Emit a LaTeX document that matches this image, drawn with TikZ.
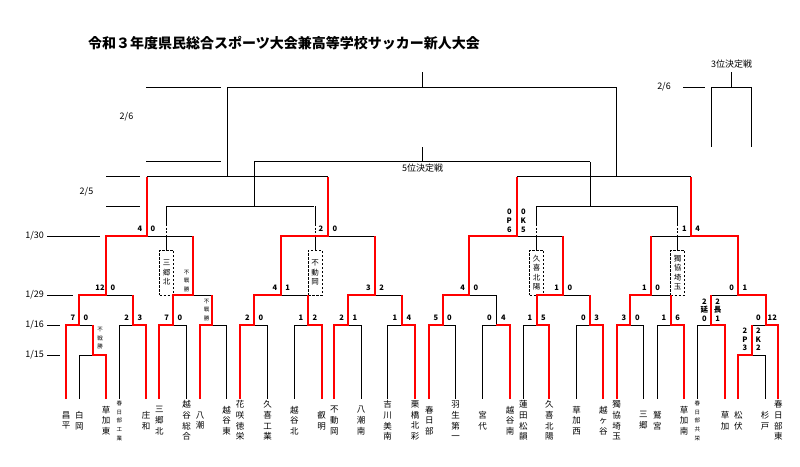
\documentclass[tikz,border=0pt]{standalone}
\usepackage{fontspec}
\setmainfont{Noto Sans CJK JP}
\tikzset{
  bk/.style={line width=0.9pt, black},
  rd/.style={line width=2.2pt, red, line join=miter},
  tn/.style={font=\fontsize{8.5}{10.7}\selectfont, align=center, inner sep=0pt},
  tns/.style={font=\fontsize{5.5}{8.75}\selectfont, align=center, inner sep=0pt},
  sc/.style={font=\bfseries\fontsize{7.5}{9}\selectfont, align=center, inner sep=0pt},
  scs/.style={font=\bfseries\fontsize{7.5}{8.3}\selectfont, align=center, inner sep=0pt},
  fsn/.style={font=\fontsize{5.5}{8.5}\selectfont, align=center, inner sep=0pt},
  dt/.style={font=\fontsize{9}{10}\selectfont, inner sep=0pt},
  boxn/.style={draw, line width=0.8pt, dash pattern=on 2.5pt off 1.5pt, fill=white,
    minimum width=14pt, minimum height=45pt, inner sep=0pt, align=center,
    font=\fontsize{7.5}{9.3}\selectfont}
}
\begin{document}
\begin{tikzpicture}[x=1pt,y=-1pt]
\fill[white] (0,0) rectangle (800,466);
\useasboundingbox (0,0) rectangle (800,466);

% title
\node[anchor=west, font=\bfseries\fontsize{14}{16}\selectfont, inner sep=0pt] (title) at (88,43)
  {令和３年度県民総合スポーツ大会兼高等学校サッカー新人大会};

% date labels and rules
\node[dt] (d26) at (126.5,117) {2/6};
\node[dt] (d25) at (86.5,191.5) {2/5};
\node[dt, anchor=east] (d130) at (44,236) {1/30};
\node[dt, anchor=east] (d129) at (44,295) {1/29};
\node[dt, anchor=east] (d116) at (44,325) {1/16};
\node[dt, anchor=east] (d115) at (44,355) {1/15};
\node[dt] (d26r) at (664,87) {2/6};
\draw[bk] (146,87) -- (221,87) (146,161.5) -- (221,161.5);
\draw[bk] (106,176.7) -- (140,176.7) (106,206) -- (140,206);
\draw[bk] (47,236) -- (100,236);
\draw[bk] (47,295) -- (73,295);
\draw[bk] (47,325) -- (59.5,325);
\draw[bk] (47,355) -- (59.5,355);

% leaves (black base)
\foreach \x/\y in {66/325,79.3/355,106/355,119.3/325,146/325,159.3/325,186.7/325,200/325,
  226.7/325,240/325,267.7/325,294.3/325,321.7/325,334.3/325,361/325,387.7/325,415/325,
  429.3/325,455.7/325,482.7/325,510/325,523.3/325,549.3/325,576.7/325,603.3/325,616.7/325,
  643.3/325,657.3/325,684/325,697.3/325,725/325,738.3/355,765/355,778.3/325}
  {\draw[bk] (\x,\y) -- (\x,399);}

% matches: left/right/level/mid/parent level
\foreach \a/\b/\y/\m/\t in {79.3/106/355/92.7/325, 738.3/765/355/751.7/325,
  66/92.7/325/79.3/295, 119.3/146/325/132.7/295, 159.3/186.7/325/173.3/295,
  200/226.7/325/212/295, 240/267.7/325/254.3/295, 294.3/321.7/325/308.3/295,
  334.3/361/325/348.3/295, 387.7/415/325/401.7/295, 429.3/455.7/325/442.7/295,
  482.7/510/325/496/295, 523.3/549.3/325/536.7/295, 576.7/603.3/325/590/295,
  616.7/643.3/325/630/295, 657.3/684/325/670.7/295, 697.3/725/325/711/295,
  751.7/778.3/325/765.7/295,
  79.3/132.7/295/106/236, 173.3/212/295/193.3/236, 254.3/308.3/295/281/236,
  348.3/401.7/295/375/236, 442.7/496/295/469.3/236, 536.7/590/295/563.3/236,
  630/670.7/295/650.7/236, 711/765.7/295/738.3/236,
  106/193.3/236/146.7/176.7, 281/375/236/328.3/176.7, 469.3/563.3/236/516.7/176.7,
  650.7/738.3/236/690.7/176.7,
  146.7/328.3/176.7/227/87, 516.7/691/176.7/616.7/87}
  {\draw[bk] (\a,\y) -- (\b,\y) (\m,\y) -- (\m,\t);}

% final
\draw[bk] (227,87) -- (616.7,87) (422.3,87) -- (422.3,72);
% 5th place
\draw[bk] (166.7,206) -- (314.3,206) (254,206) -- (254,161.5)
  (536.7,206) -- (677.7,206) (590,206) -- (590,161.5)
  (254,161.5) -- (590,161.5) (422.3,161.5) -- (422.3,146.7);
\node[dt] (l5) at (422.5,168.5) {5位決定戦};
% 3rd place
\draw[bk] (731.7,72) -- (731.7,87) (711,146.7) -- (711,87) -- (751,87) -- (751,146.7);
\draw[bk] (683.3,87) -- (705,87);
\node[dt] (l3) at (731.7,64) {3位決定戦};

% loser boxes and their connectors
\foreach \x in {166.7,315,536.7,677.7}{
  \draw[bk] (\x,206) -- (\x,224) (\x,236) -- (\x,250);
  \draw[bk, dash pattern=on 2pt off 1.5pt] (\x,224) -- (\x,236);
}
\node[boxn] (b1) at (166.7,272.5) {三\\郷\\北};
\node[boxn] (b2) at (315,272.5) {不\\動\\岡};
\node[boxn] (b3) at (536.7,272.5) {久\\喜\\北\\陽};
\node[boxn] (b4) at (677.7,272.5) {獨\\協\\埼\\玉};

% winners (red)
\draw[rd] (66,399) -- (66,325) -- (79.3,325) -- (79.3,295) -- (106,295) -- (106,236) -- (146.7,236) -- (146.7,176.7);
\draw[rd] (106,399) -- (106,355) -- (92.7,355) -- (92.7,325);
\draw[rd] (146,399) -- (146,325) -- (132.7,325) -- (132.7,295);
\draw[rd] (159.3,399) -- (159.3,325) -- (173.3,325) -- (173.3,295) -- (193.3,295) -- (193.3,236);
\draw[rd] (200,399) -- (200,325) -- (212,325) -- (212,295);
\draw[rd] (240,399) -- (240,325) -- (254.3,325) -- (254.3,295) -- (281,295) -- (281,236) -- (328.3,236) -- (328.3,176.7);
\draw[rd] (321.7,399) -- (321.7,325) -- (308.3,325) -- (308.3,295);
\draw[rd] (334.3,399) -- (334.3,325) -- (348.3,325) -- (348.3,295) -- (375,295) -- (375,236);
\draw[rd] (415,399) -- (415,325) -- (401.7,325) -- (401.7,295);
\draw[rd] (429.3,399) -- (429.3,325) -- (442.7,325) -- (442.7,295) -- (469.3,295) -- (469.3,236) -- (516.7,236) -- (516.7,176.7);
\draw[rd] (510,399) -- (510,325) -- (496,325);
\draw[rd] (549.3,399) -- (549.3,325) -- (536.7,325) -- (536.7,295) -- (563.3,295) -- (563.3,236);
\draw[rd] (603.3,399) -- (603.3,325) -- (590,325) -- (590,295);
\draw[rd] (616.7,399) -- (616.7,325) -- (630,325) -- (630,295) -- (650.7,295) -- (650.7,236);
\draw[rd] (684,399) -- (684,325) -- (670.7,325) -- (670.7,295);
\draw[rd] (725,399) -- (725,325) -- (711,325) -- (711,295);
\draw[rd] (738.3,399) -- (738.3,355) -- (751.7,355) -- (751.7,325);
\draw[rd] (778.3,399) -- (778.3,325) -- (765.7,325) -- (765.7,295) -- (738.3,295) -- (738.3,236) -- (690.7,236) -- (690.7,176.7);

% scores 1/30
\node[sc] (s1a) at (140,229) {4};   \node[sc] (s1b) at (153,229) {0};
\node[sc] (s2a) at (321,229) {2};   \node[sc] (s2b) at (335,229) {0};
\node[sc] (s3a) at (509.3,221) {0\\P\\6}; \node[sc] (s3b) at (523.3,221) {0\\K\\5};
\node[sc] (s4a) at (684.3,229) {1}; \node[sc] (s4b) at (697.7,229) {4};
% scores 1/29
\node[sc] (sAa) at (100,288) {12};  \node[sc] (sAb) at (113,288) {0};
\node[fsn] (fB) at (186.7,280.7) {不\\戦\\勝};
\node[sc] (sCa) at (275,288) {4};   \node[sc] (sCb) at (287.7,288) {1};
\node[sc] (sDa) at (368.3,288) {3}; \node[sc] (sDb) at (381.7,288) {2};
\node[sc] (sEa) at (462.7,288) {4}; \node[sc] (sEb) at (476,288) {0};
\node[sc] (sFa) at (556.7,288) {1}; \node[sc] (sFb) at (570,288) {0};
\node[sc] (sGa) at (644.3,288) {1}; \node[sc] (sGb) at (657.7,288) {0};
\node[sc] (sHa) at (731.7,288) {0}; \node[sc] (sHb) at (745,288) {1};
% scores 1/16
\node[sc] (sa1) at (73,318) {7};    \node[sc] (sa2) at (86,318) {0};
\node[sc] (sb1) at (126.7,318) {2}; \node[sc] (sb2) at (140,318) {3};
\node[sc] (sc1) at (166.7,318) {7}; \node[sc] (sc2) at (180,318) {0};
\node[fsn] (fd) at (206.7,310) {不\\戦\\勝};
\node[sc] (se1) at (247.3,318) {2}; \node[sc] (se2) at (261,318) {0};
\node[sc] (sf1) at (301,318) {1};   \node[sc] (sf2) at (315,318) {2};
\node[sc] (sg1) at (341.7,318) {2}; \node[sc] (sg2) at (355,318) {1};
\node[sc] (sh1) at (395,318) {1};   \node[sc] (sh2) at (409,318) {4};
\node[sc] (si1) at (436,318) {5};   \node[sc] (si2) at (449.3,318) {0};
\node[sc] (sj1) at (489.3,318) {0}; \node[sc] (sj2) at (503.3,318) {4};
\node[sc] (sk1) at (530,318) {1};   \node[sc] (sk2) at (543.3,318) {5};
\node[sc] (sl1) at (583.3,318) {0}; \node[sc] (sl2) at (596.7,318) {3};
\node[sc] (sm1) at (624,318) {3};   \node[sc] (sm2) at (637.3,318) {0};
\node[sc] (sn1) at (664,318) {1};   \node[sc] (sn2) at (677.7,318) {6};
\node[scs] (so1) at (704.3,310) {2\\延\\0}; \node[scs] (so2) at (717.7,310) {2\\長\\1};
\node[sc] (sp1) at (758.3,318) {0}; \node[sc] (sp2) at (772.3,318) {12};
% scores 1/15
\node[fsn] (fM1) at (100,338.5) {不\\戦\\勝};
\node[scs] (sq1) at (745,339.5) {2\\P\\3}; \node[scs] (sq2) at (758.3,339.5) {2\\K\\2};

% team names
\node[tn] (t1) at (66,420.5) {昌\\平};
\node[tn] (t2) at (79.3,420.5) {白\\岡};
\node[tn] (t3) at (106,420.5) {草\\加\\東};
\node[tns] (t4) at (119.3,420.8) {春\\日\\部\\工\\業};
\node[tn] (t5) at (146,420.5) {庄\\和};
\node[tn] (t6) at (159.3,420.5) {三\\郷\\北};
\node[tn] (t7) at (186.7,420.5) {越\\谷\\総\\合};
\node[tn] (t8) at (200,420.5) {八\\潮};
\node[tn] (t9) at (226.7,420.5) {越\\谷\\東};
\node[tn] (t10) at (240,420.5) {花\\咲\\徳\\栄};
\node[tn] (t11) at (267.7,420.5) {久\\喜\\工\\業};
\node[tn] (t12) at (294.3,420.5) {越\\谷\\北};
\node[tn] (t13) at (321.7,420.5) {叡\\明};
\node[tn] (t14) at (334.3,420.5) {不\\動\\岡};
\node[tn] (t15) at (361,420.5) {八\\潮\\南};
\node[tn] (t16) at (387.7,420.5) {吉\\川\\美\\南};
\node[tn] (t17) at (415,420.5) {栗\\橋\\北\\彩};
\node[tn] (t18) at (429.3,420.5) {春\\日\\部};
\node[tn] (t19) at (455.7,420.5) {羽\\生\\第\\一};
\node[tn] (t20) at (482.7,420.5) {宮\\代};
\node[tn] (t21) at (510,420.5) {越\\谷\\南};
\node[tn] (t22) at (523.3,420.5) {蓮\\田\\松\\韻};
\node[tn] (t23) at (549.3,420.5) {久\\喜\\北\\陽};
\node[tn] (t24) at (576.7,420.5) {草\\加\\西};
\node[tn] (t25) at (603.3,420.5) {越\\ヶ\\谷};
\node[tn] (t26) at (616.7,420.5) {獨\\協\\埼\\玉};
\node[tn] (t27) at (643.3,420.5) {三\\郷};
\node[tn] (t28) at (657.3,420.5) {鷲\\宮};
\node[tn] (t29) at (684,420.5) {草\\加\\南};
\node[tns] (t30) at (697.3,420.8) {春\\日\\部\\共\\栄};
\node[tn] (t31) at (725,420.5) {草\\加};
\node[tn] (t32) at (738.3,420.5) {松\\伏};
\node[tn] (t33) at (765,420.5) {杉\\戸};
\node[tn] (t34) at (778.3,420.5) {春\\日\\部\\東};
\end{tikzpicture}
\end{document}
